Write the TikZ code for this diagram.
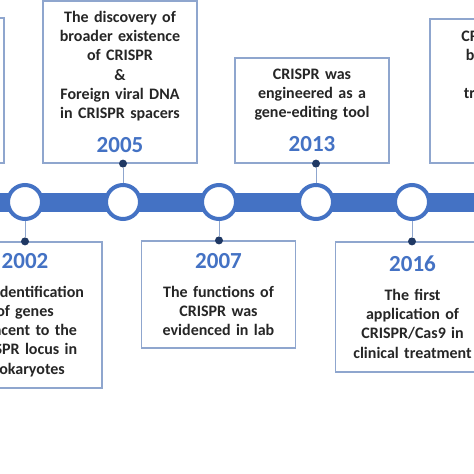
\documentclass[tikz,border=0pt]{standalone}
\usepackage{fontspec}
\setmainfont{Carlito}
\usetikzlibrary{positioning}
\definecolor{barblue}{RGB}{68,114,196}
\definecolor{yearblue}{RGB}{68,114,196}
\definecolor{dotnavy}{RGB}{31,56,100}
\definecolor{framegray}{RGB}{143,166,206}
\definecolor{textdark}{RGB}{38,38,38}
\newcommand{\yr}[1]{{\fontsize{23}{19.2}\selectfont\color{yearblue}#1}}

\begin{document}
\begin{tikzpicture}[x=1pt, y=-1pt,
    box/.style={draw=framegray, line width=1.2pt, fill=white, text width=144pt, inner xsep=5pt, align=center, font=\fontsize{16}{19.2}\selectfont\bfseries, text=textdark},
    milestone/.style={circle, draw=barblue, line width=4pt, fill=white, minimum size=34pt, inner sep=0pt},
    knob/.style={circle, fill=dotnavy, minimum size=8pt, inner sep=0pt},
    stem/.style={draw=framegray, line width=1pt}
]
    \useasboundingbox (0,0) rectangle (474,474);
    \clip (0,0) rectangle (474,474);

    % time line
    \coordinate (barL) at (0,202);
    \coordinate (barR) at (474,202);
    \draw[line width=19pt, barblue] (barL) -- (barR);

    \node[milestone] (c2002) at (25,202) {};
    \node[milestone] (c2005) at (123,202) {};
    \node[milestone] (c2007) at (219,202) {};
    \node[milestone] (c2013) at (316,202) {};
    \node[milestone] (c2016) at (412,202) {};

    % upper row
    \node[box, minimum height=145pt] (bleft) at (-73,90.5) {};
    \node[box, minimum height=162pt] (b2005) at (120,82) {The discovery of\\broader existence\\of CRISPR\\\&\\Foreign viral DNA\\in CRISPR spacers\\[14.8pt]\yr{2005}};
    \node[box, minimum height=105pt] (b2013) at (312,110.5) {CRISPR was\\engineered as a\\gene-editing tool\\[14.8pt]\yr{2013}};
    \node[box, minimum height=144pt] (bright) at (507,91) {CRISPR-based\\base editing\\used in\\treatment of\\disease\\[14.8pt]\yr{2019}};

    % lower row
    \node[box, minimum height=146pt] (b2002) at (25,315) {\yr{2002}\\[9.8pt]The identification\\of genes\\adjacent to the\\CRISPR locus in\\prokaryotes};
    \node[box, minimum height=107pt] (b2007) at (218.5,294.5) {\yr{2007}\\[9.8pt]The functions of\\CRISPR was\\evidenced in lab};
    \node[box, minimum height=130pt] (b2016) at (412.5,307) {\yr{2016}\\[9.8pt]The first\\application of\\CRISPR/Cas9 in\\clinical treatment};

    \node[knob] (d2005) at (b2005.south -| c2005) {};
    \node[knob] (d2013) at (b2013.south -| c2013) {};
    \node[knob] (d2002) at (b2002.north -| c2002) {};
    \node[knob] (d2007) at (b2007.north -| c2007) {};
    \node[knob] (d2016) at (b2016.north -| c2016) {};

    \draw[stem] (c2005) -- (d2005);
    \draw[stem] (c2013) -- (d2013);
    \draw[stem] (c2002) -- (d2002);
    \draw[stem] (c2007) -- (d2007);
    \draw[stem] (c2016) -- (d2016);
\end{tikzpicture}
\end{document}
